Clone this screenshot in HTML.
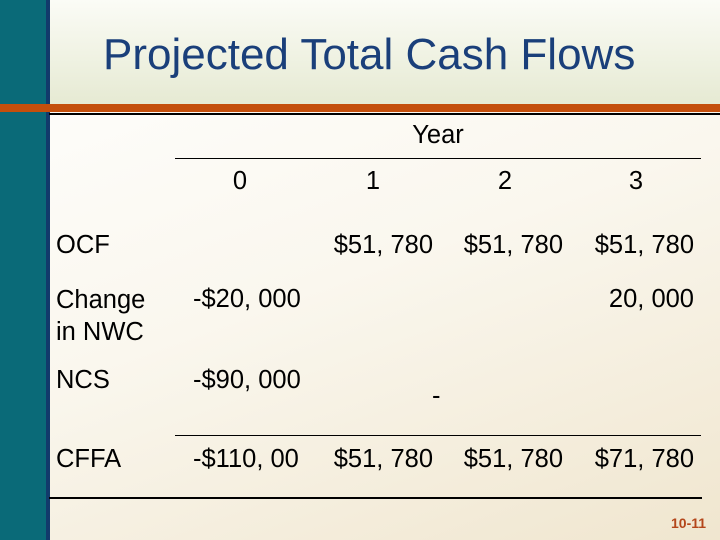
<!DOCTYPE html>
<html><head><meta charset="utf-8"><style>
body{margin:0;width:720px;height:540px;overflow:hidden;position:relative;font-family:"Liberation Sans",sans-serif;background:linear-gradient(160deg,#ffffff 0%,#faf7ee 50%,#f0e6cf 100%);}
.a{position:absolute;}
.t{position:absolute;font-size:25.5px;color:#000;white-space:nowrap;line-height:28px;}
.r{text-align:right;}
.c{text-align:center;}
.ln{position:absolute;background:#000;}
</style></head><body>
<div class="a" style="left:0;top:0;width:46px;height:540px;background:#0a6a78"></div>
<div class="a" style="left:46px;top:0;width:4px;height:540px;background:#123a6b"></div>
<div class="a" style="left:50px;top:0;width:670px;height:104px;background:linear-gradient(180deg,#fbfcf6 0%,#e6ead3 100%)"></div>
<div class="a" style="left:0;top:104px;width:720px;height:8px;background:#c44f0c"></div>
<div class="t" style="left:103px;top:32px;font-size:44px;line-height:46px;color:#1a3f7a">Projected Total Cash Flows</div>
<div class="ln" style="left:49px;top:113px;width:671px;height:2px"></div>
<div class="t c" style="left:378px;top:121px;width:120px">Year</div>
<div class="ln" style="left:175px;top:158px;width:526px;height:1px"></div>
<div class="t c" style="left:200px;top:167px;width:80px">0</div>
<div class="t c" style="left:333px;top:167px;width:80px">1</div>
<div class="t c" style="left:465px;top:167px;width:80px">2</div>
<div class="t c" style="left:596px;top:167px;width:80px">3</div>
<div class="t" style="left:56px;top:231px">OCF</div>
<div class="t r" style="left:300px;top:231px;width:133px">$51, 780</div>
<div class="t r" style="left:430px;top:231px;width:133px">$51, 780</div>
<div class="t r" style="left:561px;top:231px;width:133px">$51, 780</div>
<div class="t" style="left:56px;top:284px;line-height:32px">Change<br>in NWC</div>
<div class="t" style="left:193px;top:285px">-$20, 000</div>
<div class="t r" style="left:561px;top:285px;width:133px">20, 000</div>
<div class="t" style="left:56px;top:366px">NCS</div>
<div class="t" style="left:193px;top:366px">-$90, 000</div>
<div class="t" style="left:432px;top:382px">-</div>
<div class="ln" style="left:175px;top:435px;width:526px;height:1px"></div>
<div class="t" style="left:56px;top:445px">CFFA</div>
<div class="t" style="left:193px;top:445px">-$110, 00</div>
<div class="t r" style="left:300px;top:445px;width:133px">$51, 780</div>
<div class="t r" style="left:430px;top:445px;width:133px">$51, 780</div>
<div class="t r" style="left:561px;top:445px;width:133px">$71, 780</div>
<div class="ln" style="left:49px;top:497px;width:653px;height:2px"></div>
<div class="t" style="left:671px;top:515px;font-size:14px;line-height:16px;font-weight:bold;color:#b4461a">10-11</div>
</body></html>
